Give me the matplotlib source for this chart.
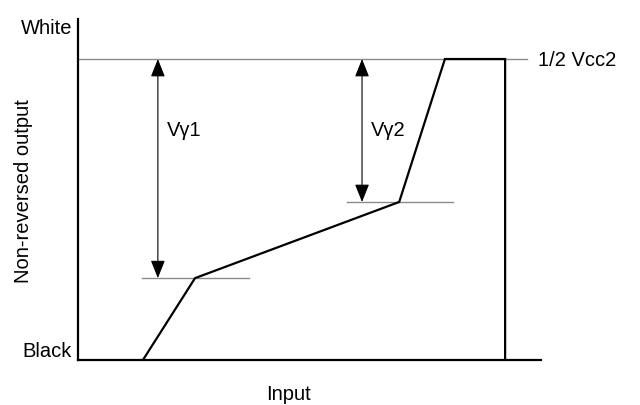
import matplotlib
matplotlib.use("Agg")
from matplotlib import pyplot as plt

plt.rcParams['font.family'] = ['Liberation Sans', 'DejaVu Sans']

# transfer curve, input 0..1 (1 = clip edge), output 0 = Black, 1 = 1/2 Vcc2
curve_in = [0.152, 0.274, 0.752, 0.859, 1.0, 1.0]
curve_out = [0.0, 0.272, 0.525, 1.0, 1.0, 0.0]

# knee levels and the guide lines drawn through them
knee_levels = [0.272, 0.525]
knee_spans = [(0.150, 0.400), (0.630, 0.878)]
top_level = 1.0
top_span = (0.0, 1.052)

# gamma arrows
gamma_x = [0.187, 0.665]
gamma_labels = ["V\u03b31", "V\u03b32"]

fs = 14.5

fig = plt.figure(figsize=(6.4, 4.06), dpi=100)
ax = fig.add_axes([78 / 640, 45 / 406, 463 / 640, 341 / 406])
ax.set_xlim(0, 1.084)
ax.set_ylim(0, 1.133)
for s in ['top', 'right']:
    ax.spines[s].set_visible(False)
for s in ['left', 'bottom']:
    ax.spines[s].set_linewidth(1.6)
ax.set_xticks([])
ax.set_yticks([])

# gray level lines
ax.plot(top_span, [top_level, top_level], color='#8a8a8a', lw=1.0, clip_on=False)
for lvl, (a, b) in zip(knee_levels, knee_spans):
    ax.plot([a, b], [lvl, lvl], color='#8a8a8a', lw=1.0)

# the curve
ax.plot(curve_in, curve_out, color='black', lw=1.6, solid_joinstyle='miter')

# double arrows
for x, lvl, lab in zip(gamma_x, knee_levels, gamma_labels):
    ax.annotate('', xy=(x, top_level), xytext=(x, lvl),
                arrowprops=dict(arrowstyle='<|-|>,head_length=0.55,head_width=0.22',
                                color='black', lw=0.8,
                                mutation_scale=20, shrinkA=0, shrinkB=0))
    ax.text(x + 0.02, 0.765, lab, fontsize=fs, va='center', ha='left')

ax.text(1.077, top_level, "1/2 Vcc2", fontsize=fs, va='center', ha='left', clip_on=False)
ax.text(-0.014, 1.106, "White", fontsize=fs, va='center', ha='right')
ax.text(-0.014, 0.03, "Black", fontsize=fs, va='center', ha='right')
ax.text(0.492, -0.11, "Input", fontsize=fs, va='center', ha='center')
ax.text(-0.128, 0.565, "Non-reversed output", fontsize=fs, va='center', ha='center',
        rotation=90)

fig.savefig('out.png', dpi=100)
